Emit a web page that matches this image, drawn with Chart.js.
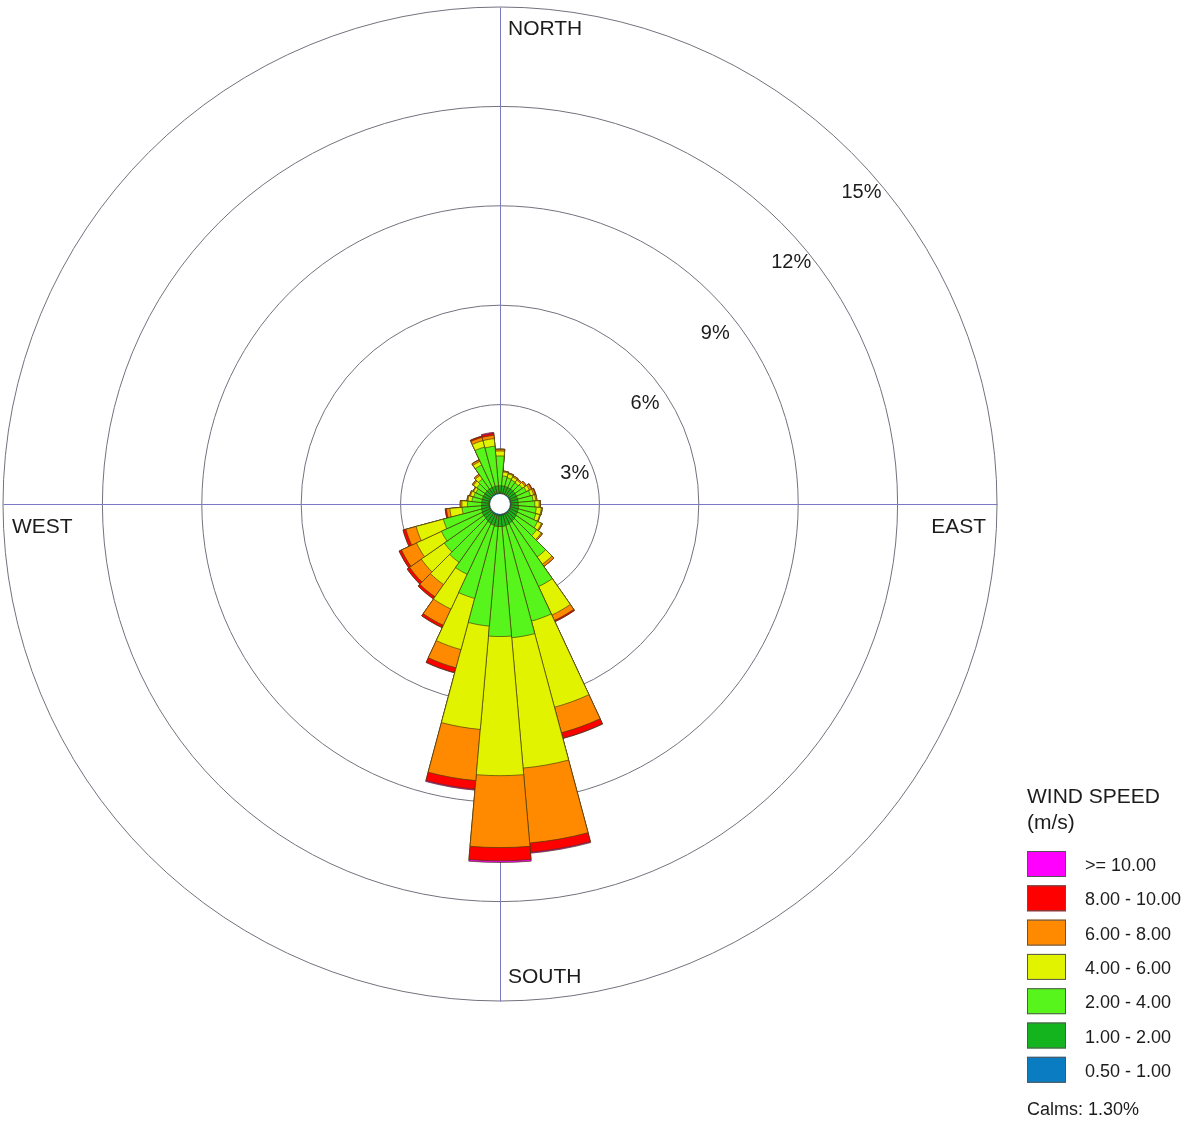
<!DOCTYPE html>
<html>
<head>
<meta charset="utf-8">
<script src="https://cdn.jsdelivr.net/npm/chart.js@4.4.1/dist/chart.umd.min.js"></script>
<style>
  html, body { margin: 0; padding: 0; background: #fff; }
</style>
</head>
<body>
<canvas id="rose" width="1193" height="1122"></canvas>
<script>
// wind directions (bar centres, clockwise from north)
const directions = [
  "0°", "10°", "20°", "30°", "40°", "50°", "60°", "70°", "80°",
  "90°", "100°", "110°", "120°", "130°", "140°", "150°", "160°", "170°",
  "180°", "190°", "200°", "210°", "220°", "230°", "240°", "250°", "260°",
  "270°", "280°", "290°", "300°", "310°", "320°", "330°", "340°", "350°",
];

const speedClasses = [
  "0.50 - 1.00", "1.00 - 2.00", "2.00 - 4.00", "4.00 - 6.00",
  "6.00 - 8.00", "8.00 - 10.00", ">= 10.00",
];
const classColors = [
  "#0a7cc2", "#14b41e", "#57f51c", "#e2f300", "#ff8a00", "#ff0000", "#ff00ff",
];

// frequency (%) per speed class, one value per direction
const band05to1 = [0.03, 0.03, 0.02, 0.02, 0.02, 0.03, 0.03, 0.03, 0.03, 0.03, 0.03, 0.03, 0.03, 0.03, 0.04, 0.04, 0.04, 0.05,
  0.05, 0.05, 0.04, 0.04, 0.04, 0.03, 0.03, 0.03, 0.03, 0.03, 0.03, 0.02, 0.02, 0.02, 0.03, 0.03, 0.03, 0.03];
const band1to2 = [0.22, 0.22, 0.23, 0.23, 0.23, 0.22, 0.22, 0.22, 0.22, 0.22, 0.24, 0.24, 0.25, 0.27, 0.28, 0.30, 0.32, 0.33,
  0.33, 0.33, 0.32, 0.30, 0.28, 0.27, 0.27, 0.25, 0.23, 0.22, 0.22, 0.23, 0.23, 0.23, 0.22, 0.22, 0.22, 0.22];
const band2to4 = [0.90, 0.30, 0.27, 0.25, 0.23, 0.27, 0.33, 0.40, 0.45, 0.50, 0.53, 0.55, 0.67, 0.75, 1.33, 2.11, 3.00, 3.37,
  3.32, 3.02, 2.29, 1.70, 1.53, 1.45, 1.35, 1.19, 0.59, 0.43, 0.30, 0.27, 0.25, 0.30, 0.37, 0.75, 1.23, 1.20];
const band4to6 = [0.15, 0.12, 0.12, 0.10, 0.10, 0.10, 0.10, 0.10, 0.08, 0.13, 0.15, 0.12, 0.13, 0.17, 0.27, 0.95, 2.69, 3.95,
  4.20, 3.13, 1.60, 1.16, 0.82, 0.85, 0.83, 0.85, 0.37, 0.17, 0.12, 0.10, 0.08, 0.13, 0.13, 0.12, 0.20, 0.23];
const band6to8 = [0.05, 0.03, 0.03, 0.04, 0.04, 0.05, 0.07, 0.05, 0.04, 0.04, 0.03, 0.02, 0.03, 0.04, 0.08, 0.18, 0.80, 2.27,
  2.17, 1.55, 0.57, 0.54, 0.45, 0.43, 0.50, 0.32, 0.10, 0.05, 0.03, 0.03, 0.02, 0.04, 0.05, 0.05, 0.10, 0.10];
const band8to10 = [0.01, 0, 0, 0, 0, 0, 0.02, 0.02, 0, 0, 0, 0, 0, 0, 0, 0.04, 0.17, 0.28,
  0.40, 0.26, 0.15, 0.08, 0.08, 0.09, 0.08, 0.09, 0.04, 0, 0, 0, 0, 0, 0, 0.01, 0.04, 0.06];
const band10up = [0, 0, 0, 0, 0, 0, 0, 0, 0, 0, 0, 0, 0, 0, 0, 0, 0.01, 0.03,
  0.05, 0.03, 0.01, 0, 0, 0, 0, 0, 0, 0, 0, 0, 0, 0, 0, 0, 0, 0.03];

const ringTicks = [3, 6, 9, 12, 15];
const tickLabels = ["3%", "6%", "9%", "12%", "15%"];
const compassLabels = ["NORTH", "EAST", "SOUTH", "WEST"];
const legendTitle = ["WIND SPEED", "(m/s)"];
const calmsLabel = "Calms: 1.30%";
const calmOffset = 0.3; // bars start at the edge of the calm circle

const bands = [band05to1, band1to2, band2to4, band4to6, band6to8, band8to10, band10up];

// stacked radii: each class is drawn out to its cumulative total
let running = directions.map(() => calmOffset);
const datasets = bands.map((band, k) => {
  running = running.map((v, i) => v + band[i]);
  return {
    label: speedClasses[k],
    data: running.slice(),
    backgroundColor: classColors[k],
    borderColor: "rgba(70, 60, 10, 0.85)",
    borderWidth: 0.8,
  };
});

const FONT = "'Liberation Sans', Arial, sans-serif";

const roseDecor = {
  id: "roseDecor",
  beforeDatasetsDraw(chart) {

    const { ctx } = chart;
    const r = chart.scales.r;
    const R = r.drawingArea;
    const x = r.xCenter + 0.5;
    const y = r.yCenter + 0.5;

    ctx.save();
    ctx.strokeStyle = "#7a7ac4";
    ctx.lineWidth = 1;
    ctx.beginPath();
    ctx.moveTo(x, y - R);
    ctx.lineTo(x, y + R);
    ctx.moveTo(x - R, y);
    ctx.lineTo(x + R, y);
    ctx.stroke();
    ctx.restore();

  },
  afterDatasetsDraw(chart) {

    const { ctx } = chart;
    const r = chart.scales.r;
    const R = r.drawingArea;
    const xc = r.xCenter;
    const yc = r.yCenter;

    ctx.save();

    // calm circle
    ctx.beginPath();
    ctx.arc(xc, yc, r.getDistanceFromCenterForValue(calmOffset), 0, Math.PI * 2);
    ctx.fillStyle = "#ffffff";
    ctx.fill();

    ctx.fillStyle = "#1c1c1c";
    ctx.textBaseline = "alphabetic";

    // ring labels, placed below the ring on the 45° diagonal
    ctx.font = `20px ${FONT}`;
    ctx.textAlign = "left";
    ringTicks.forEach((v, i) => {
      const d = r.getDistanceFromCenterForValue(v) * Math.SQRT1_2;
      ctx.fillText(tickLabels[i], xc + d - 10, yc - d + 45.5);
    });

    // compass labels
    ctx.font = `21px ${FONT}`;
    ctx.fillText(compassLabels[0], xc + 8, yc - R + 28);
    ctx.fillText(compassLabels[2], xc + 8, yc + R - 18);
    ctx.fillText(compassLabels[3], xc - R + 9, yc + 29);
    ctx.textAlign = "right";
    ctx.fillText(compassLabels[1], xc + R - 11, yc + 29);

    // legend
    ctx.textAlign = "left";
    ctx.font = `21px ${FONT}`;
    ctx.fillText(legendTitle[0], 1027, 803);
    ctx.fillText(legendTitle[1], 1027, 829);

    ctx.font = `18px ${FONT}`;
    const order = speedClasses.map((_, i) => speedClasses.length - 1 - i);
    order.forEach((k, row) => {
      const top = 851 + row * 34.3;
      ctx.fillStyle = classColors[k];
      ctx.fillRect(1027, top, 39, 26);
      ctx.strokeStyle = "#555555";
      ctx.lineWidth = 1;
      ctx.strokeRect(1027.5, top + 0.5, 38, 25);
      ctx.fillStyle = "#1c1c1c";
      ctx.fillText(speedClasses[k], 1085, top + 20);
    });

    ctx.font = `18px ${FONT}`;
    ctx.fillText(calmsLabel, 1027, 1115);

    ctx.restore();

  },
};

new Chart(document.getElementById("rose"), {
  type: "polarArea",
  data: { labels: directions, datasets },
  options: {
    responsive: false,
    animation: false,
    devicePixelRatio: 1,
    events: [],
    layout: {
      padding: { left: 3, top: 7, right: 196, bottom: 121 },
    },
    plugins: {
      legend: { display: false },
      tooltip: { enabled: false },
    },
    scales: {
      r: {
        min: 0,
        max: 15,
        startAngle: -5,
        ticks: { stepSize: 3, display: false },
        grid: { color: "#72727e", lineWidth: 1 },
        angleLines: { display: false },
        pointLabels: { display: false },
      },
    },
  },
  plugins: [roseDecor],
});
</script>
</body>
</html>
